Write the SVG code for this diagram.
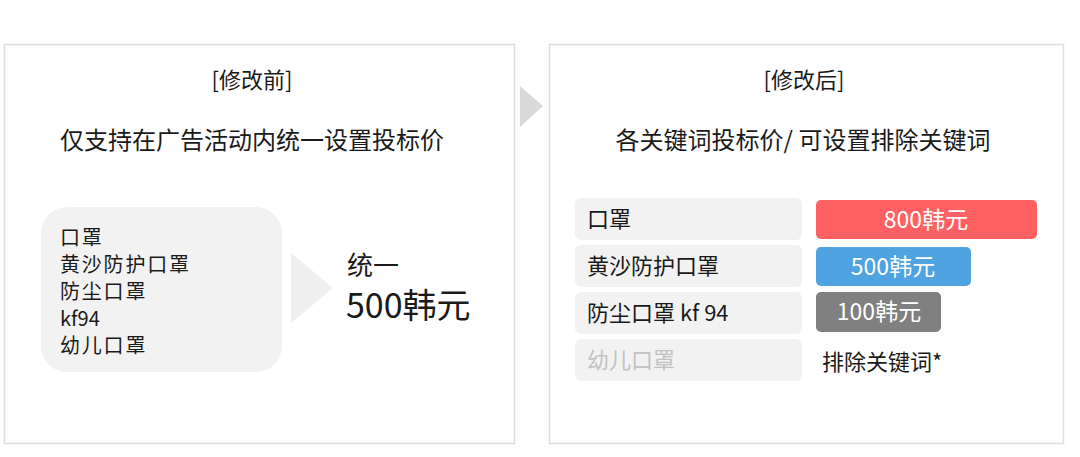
<svg xmlns="http://www.w3.org/2000/svg" width="1080" height="457" viewBox="0 0 1080 457">
<style>
text{font-family:"Noto Sans CJK SC","Noto Sans",sans-serif;fill:#1a1a1a}
.panel{fill:#fff;stroke:#dedede;stroke-width:1.5}
.t{font-size:22px;text-anchor:middle}
.sub{font-size:24px;text-anchor:middle}
.kw{fill:#f2f2f2}
.item{font-size:22px}
.li{font-size:20px;letter-spacing:1.8px}
.price{font-size:23px;text-anchor:middle;fill:#fff}
</style>
<rect width="1080" height="457" fill="#fff"/>
<g id="panel-before">
<rect class="panel" x="4.5" y="44.5" width="510" height="399"/>
<text class="t" x="252" y="88">[修改前]</text>
<text class="sub" x="252" y="149">仅支持在广告活动内统一设置投标价</text>
<rect x="41" y="207" width="241" height="165" rx="26" fill="#f2f2f2"/>
<text class="li" x="60" y="245">口罩</text>
<text class="li" x="60" y="272">黄沙防护口罩</text>
<text class="li" x="60" y="299">防尘口罩</text>
<text class="li" x="60" y="326" style="letter-spacing:0">kf94</text>
<text class="li" x="60" y="353">幼儿口罩</text>
<polygon points="291,253 333,288 291,323" fill="#efefef"/>
<text x="347" y="275" font-size="26">统一</text>
<text x="346" y="318" font-size="34">500韩元</text>
</g>
<g id="arrow">
<polygon points="520,86 543,106 520,127" fill="#d9d9d9"/>
</g>
<g id="panel-after">
<rect class="panel" x="549.5" y="44.5" width="514" height="399"/>
<text class="t" x="804" y="88">[修改后]</text>
<text class="sub" x="803" y="149">各关键词投标价/ 可设置排除关键词</text>
<g id="row1">
<rect class="kw" x="575" y="198" width="227" height="42" rx="6"/>
<text class="item" x="587" y="227">口罩</text>
<rect x="816" y="200" width="221" height="39" rx="5" fill="#ff6061"/>
<text class="price" x="926" y="228">800韩元</text>
</g>
<g id="row2">
<rect class="kw" x="575" y="245" width="227" height="42" rx="6"/>
<text class="item" x="587" y="274">黄沙防护口罩</text>
<rect x="816" y="247" width="155" height="39" rx="5" fill="#4fa3e0"/>
<text class="price" x="893" y="275">500韩元</text>
</g>
<g id="row3">
<rect class="kw" x="575" y="292" width="227" height="42" rx="6"/>
<text class="item" x="587" y="321">防尘口罩 kf 94</text>
<rect x="816" y="292" width="125" height="40" rx="5" fill="#808080"/>
<text class="price" x="879" y="320">100韩元</text>
</g>
<g id="row4">
<rect class="kw" x="575" y="339" width="227" height="42" rx="6"/>
<text class="item" x="587" y="368" style="fill:#c2c2c2">幼儿口罩</text>
<text class="item" x="822" y="370">排除关键词*</text>
</g>
</g>
</svg>
